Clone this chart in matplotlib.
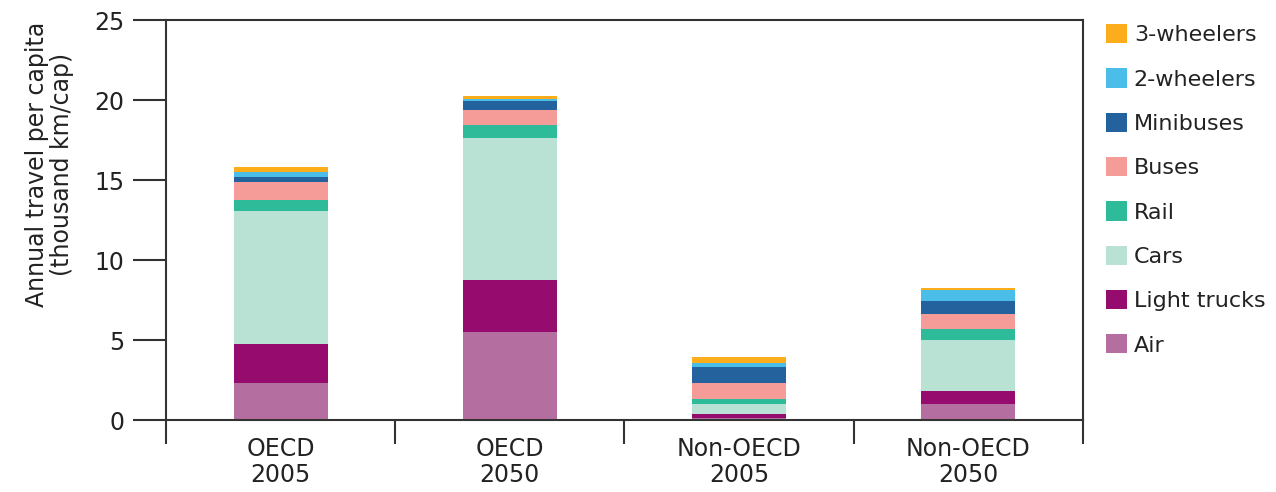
import numpy as np
import matplotlib
matplotlib.use("Agg")
import matplotlib.pyplot as plt

categories = ["OECD\n2005", "OECD\n2050", "Non-OECD\n2005", "Non-OECD\n2050"]
modes = ["Air", "Light trucks", "Cars", "Rail", "Buses", "Minibuses", "2-wheelers", "3-wheelers"]

# thousand km per capita, stacked bottom to top
air = [2.29, 5.51, 0.10, 1.00]
light_trucks = [2.43, 3.26, 0.27, 0.83]
cars = [8.37, 8.85, 0.63, 3.20]
rail = [0.63, 0.81, 0.33, 0.64]
buses = [1.14, 0.94, 0.96, 0.96]
minibuses = [0.35, 0.54, 1.00, 0.81]
two_wheelers = [0.31, 0.14, 0.28, 0.66]
three_wheelers = [0.32, 0.17, 0.34, 0.17]

colors = ["#b46ea0", "#960c6e", "#b9e1d4", "#2dbb99", "#f59b98", "#23629d", "#4bbde9", "#fbad1c"]

series = [air, light_trucks, cars, rail, buses, minibuses, two_wheelers, three_wheelers]

fig = plt.figure(figsize=(12.76, 4.92), dpi=100)
ax = fig.add_axes([166 / 1276, 1 - 420 / 492, (1083 - 166) / 1276, 400 / 492])

x = np.arange(len(categories))
bottom = np.zeros(len(categories))
handles = []
for name, vals, col in zip(modes, series, colors):
    b = ax.bar(x, vals, width=0.41, bottom=bottom, color=col, label=name, linewidth=0)
    handles.append(b)
    bottom += np.array(vals)

ax.set_xlim(-0.5, len(categories) - 0.5)
ax.set_ylim(0, 25)
ax.set_yticks([0, 5, 10, 15, 20, 25])

ax.set_xticks(x)
ax.set_xticklabels(categories, fontsize=17, color="#222222", linespacing=1.1)
ax.tick_params(axis="x", which="major", length=0, pad=12)
ax.set_xticks(np.arange(-0.5, len(categories)), minor=True)
ax.tick_params(axis="x", which="minor", length=17, width=1.5, color="#333333")

ax.tick_params(axis="y", length=24, width=1.5, color="#333333", labelsize=17,
               labelcolor="#222222", pad=6)

for s in ax.spines.values():
    s.set_linewidth(1.5)
    s.set_color("#333333")

ax.set_ylabel("Annual travel per capita\n(thousand km/cap)", fontsize=17, color="#222222",
              linespacing=1.05)
ax.yaxis.set_label_coords(-0.10, 0.64)

leg = ax.legend(handles[::-1], modes[::-1], loc="upper left",
                bbox_to_anchor=(1106 / 1276, 1 - 24 / 492), bbox_transform=fig.transFigure,
                frameon=False, fontsize=16, handlelength=0.95, handleheight=0.95,
                handletextpad=0.3, labelspacing=1.04, borderaxespad=0, borderpad=0)
for t in leg.get_texts():
    t.set_color("#222222")

fig.savefig("out.png", dpi=100)
